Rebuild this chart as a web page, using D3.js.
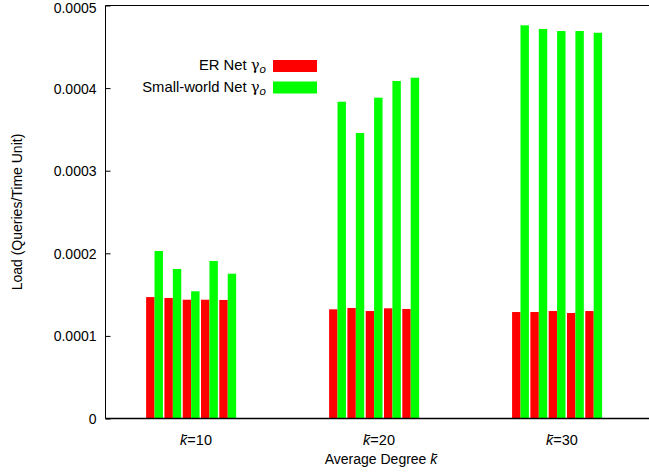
<!DOCTYPE html>
<html><head><meta charset="utf-8">
<script src="https://cdn.jsdelivr.net/npm/d3@7"></script>
<style>body{margin:0;background:#fff}svg{display:block}text{font-family:"Liberation Sans",Arial,sans-serif;fill:#000}</style>
</head><body><svg id="c" width="649" height="476"></svg>
<script>
const groups = ["10", "20", "30"];
const erNet = [
  [0.0001470, 0.0001459, 0.0001438, 0.0001438, 0.0001435],
  [0.0001322, 0.0001338, 0.0001301, 0.0001334, 0.0001326],
  [0.0001289, 0.0001289, 0.0001301, 0.0001277, 0.0001301]
];
const smallWorld = [
  [0.0002028, 0.0001810, 0.0001540, 0.0001907, 0.0001753],
  [0.0003835, 0.0003456, 0.0003884, 0.0004086, 0.0004126],
  [0.0004760, 0.0004716, 0.0004691, 0.0004691, 0.0004670]
];
const yTicks = [0, 0.0001, 0.0002, 0.0003, 0.0004, 0.0005];
const yTickLabels = ["0", "0.0001", "0.0002", "0.0003", "0.0004", "0.0005"];

const svg = d3.select("#c");
const L = 105.5, T = 5.5, B = 418.5, R = 649.5;
const FS = 14;
const y = d3.scaleLinear().domain([0, 0.0005]).range([B, T]);
const x = d3.scaleLinear().domain([-0.473, 2.5]).range([L, R]);
const pairStep = 0.1, barW = 0.046;

// bars
const bars = [];
groups.forEach((g, gi) => {
  for (let i = 0; i < 5; i++) {
    const c = gi + (i - 2) * pairStep - 0.005;
    bars.push({x0: c - barW, v: erNet[gi][i], col: "#ff0000"});
    bars.push({x0: c, v: smallWorld[gi][i], col: "#00ff00"});
  }
});
svg.append("g").selectAll("rect").data(bars).join("rect")
  .attr("x", d => x(d.x0)).attr("width", d => x(d.x0 + barW) - x(d.x0))
  .attr("y", d => y(d.v)).attr("height", d => y(0) - y(d.v))
  .attr("fill", d => d.col);

// frame
const fr = svg.append("g").attr("stroke", "#000").attr("fill", "none");
fr.append("line").attr("x1", L).attr("x2", R).attr("y1", T).attr("y2", T).attr("stroke-width", 1);
fr.append("line").attr("x1", L).attr("x2", R).attr("y1", B).attr("y2", B).attr("stroke-width", 1.5);
fr.append("line").attr("x1", L).attr("x2", L).attr("y1", T).attr("y2", B).attr("stroke-width", 1);

// y axis
const yAxis = d3.axisLeft(y).tickValues(yTicks).tickSize(-5).tickPadding(9)
  .tickFormat((d, i) => yTickLabels[i]);
const ya = svg.append("g").attr("transform", `translate(${L},0)`).call(yAxis);
ya.select(".domain").remove();
ya.selectAll("line").attr("stroke", "#000");
ya.selectAll("text").attr("font-size", FS).attr("font-family", "Liberation Sans, Arial, sans-serif")
  .attr("dy", d => d === 0.0005 ? "0.5em" : "0.35em");

// x tick labels
const xl = svg.append("g").selectAll("text").data(groups).join("text")
  .attr("x", (d, i) => x(i) + 4).attr("y", 445).attr("text-anchor", "middle").attr("font-size", 14.5);
xl.append("tspan").attr("font-style", "italic").text("k\u0304");
xl.append("tspan").text(d => "=" + d);

// axis titles
const xt = svg.append("text").attr("x", 381).attr("y", 464).attr("text-anchor", "middle").attr("font-size", FS);
xt.append("tspan").text("Average Degree ");
xt.append("tspan").attr("font-style", "italic").text("k\u0304");
svg.append("text").attr("transform", "translate(22,212) rotate(-90)").attr("text-anchor", "middle")
  .attr("font-size", FS).text("Load (Queries/Time Unit)");

// legend
const legend = [{name: "ER Net ", col: "#ff0000"}, {name: "Small-world Net ", col: "#00ff00"}];
const lg = svg.append("g").selectAll("g").data(legend).join("g")
  .attr("transform", (d, i) => `translate(0,${i * 21.5})`);
lg.append("rect").attr("x", 273).attr("y", 60).attr("width", 44).attr("height", 12).attr("fill", d => d.col);
const lt = lg.append("text").attr("x", 266).attr("y", 70).attr("text-anchor", "end").attr("font-size", 14.8);
lt.append("tspan").text(d => d.name);
lt.append("tspan").attr("font-family", "DejaVu Serif, serif").text("\u03b3");
lt.append("tspan").attr("font-style", "italic").attr("font-size", 11.5).attr("dy", 3).text("o");
</script></body></html>
